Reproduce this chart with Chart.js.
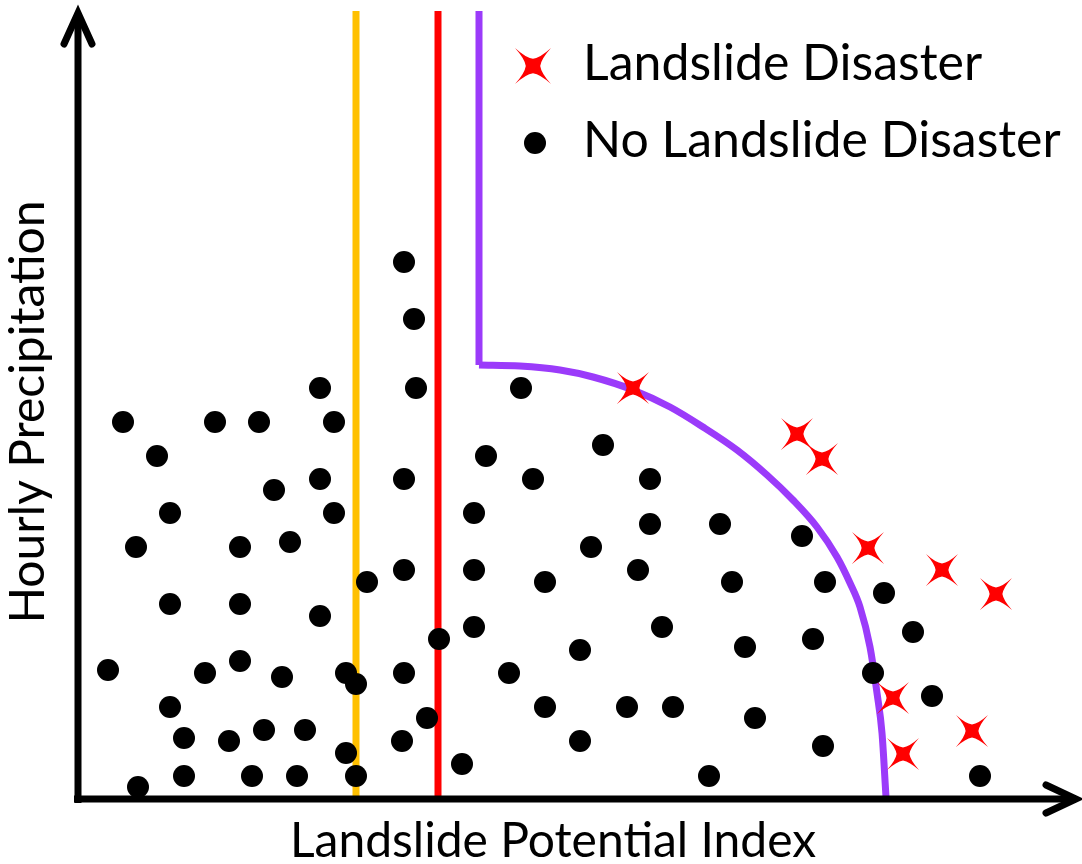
<!DOCTYPE html>
<html>
<head>
<meta charset="utf-8">
<script src="https://cdn.jsdelivr.net/npm/chart.js@4.4.1/dist/chart.umd.min.js"></script>
<style>
  html, body { margin: 0; padding: 0; background: #fff; }
  #wrap { width: 1082px; height: 864px; position: relative; }
</style>
</head>
<body>
<div id="wrap"><canvas id="landslideChart"></canvas></div>
<script>
// index units: x 0..1000 (potential index), y 0..788 (hourly precipitation)
const noDisasterX = [45, 79, 137, 181, 242, 256, 326, 336, 338, 92, 58, 196, 242, 256, 162, 212, 326,
  92, 162, 242, 289, 326, 30, 127, 162, 204, 268, 278, 326, 361, 92, 106, 151, 186, 227, 268, 324, 349,
  60, 106, 174, 219, 278, 384, 443, 408, 455, 525, 572, 396, 396, 467, 513, 560, 572, 642, 654, 724,
  747, 806, 396, 431, 502, 584, 667, 735, 835, 795, 854, 467, 549, 595, 677, 502, 631, 745, 902];
const noDisasterY = [377, 343, 377, 377, 411, 377, 537, 480, 411, 286, 252, 309, 320, 286, 252, 257, 320,
  195, 195, 183, 217, 229, 129, 126, 138, 122, 126, 115, 126, 160, 92, 61, 58, 69, 69, 46, 58, 81,
  12, 23, 23, 23, 23, 35, 411, 343, 320, 354, 320, 286, 229, 217, 252, 229, 275, 275, 217, 263,
  217, 206, 172, 126, 149, 172, 152, 160, 167, 126, 103, 92, 92, 92, 81, 58, 23, 53, 23];

const disasterX = [555, 719, 744, 790, 864, 918, 815, 894, 825];
const disasterY = [411, 365, 340, 251, 229, 205, 101, 68, 45];

const yellowLineX = 278;
const redLineX = 360;
const lineTop = 788;

// purple threshold: vertical stem, then the curved boundary
const stemX = [401, 401];
const stemY = [788, 434];
const boundaryX = [401, 442, 482, 515, 555, 592, 625, 659, 689, 715, 739, 759, 772, 782, 792, 799, 804, 808];
const boundaryY = [434, 433, 429, 422, 409, 392, 372, 349, 324, 299, 272, 242, 216, 192, 152, 106, 66, 2];

const legendLabels = ['Landslide Disaster', 'No Landslide Disaster'];
const xTitle = 'Landslide Potential Index';
const yTitle = 'Hourly Precipitation';

const pts = (xs, ys) => xs.map((v, i) => ({ x: v, y: ys[i] }));

// red four-point star marker, points on the diagonals
function makeStar(size, color) {
  const c = document.createElement('canvas');
  c.width = size; c.height = size;
  const g = c.getContext('2d');
  const h = size / 2;
  const w = size * 0.2; // waist
  const k = size * 0.2;
  g.translate(h, h);
  g.fillStyle = color;
  g.beginPath();
  g.moveTo(-h, -h);
  g.quadraticCurveTo(-k, -w - 1, 0, -w);
  g.quadraticCurveTo(k, -w - 1, h, -h);
  g.quadraticCurveTo(w + 1, -k, w, 0);
  g.quadraticCurveTo(w + 1, k, h, h);
  g.quadraticCurveTo(k, w + 1, 0, w);
  g.quadraticCurveTo(-k, w + 1, -h, h);
  g.quadraticCurveTo(-w - 1, k, -w, 0);
  g.quadraticCurveTo(-w - 1, -k, -h, -h);
  g.closePath();
  g.fill();
  return c;
}
const star = makeStar(32, '#ff0000');
const legendStar = makeStar(36, '#ff0000');

const FONT = 'Lato, "Noto Sans", sans-serif';

const decorations = {
  id: 'decorations',
  afterDraw(chart) {
    const { ctx, chartArea, scales: { x, y } } = chart;
    const ox = x.getPixelForValue(0);
    const oy = y.getPixelForValue(0);
    ctx.save();
    ctx.strokeStyle = '#000';
    ctx.lineWidth = 7;
    // axes
    ctx.lineCap = 'butt';
    ctx.beginPath();
    ctx.moveTo(ox, oy + 4);
    ctx.lineTo(ox, chartArea.top + 3);
    ctx.moveTo(ox - 4, oy);
    ctx.lineTo(chartArea.right - 4, oy);
    ctx.stroke();
    // arrow heads
    ctx.lineCap = 'round';
    ctx.lineJoin = 'miter';
    const tipY = chartArea.top + 2;
    ctx.beginPath();
    ctx.moveTo(ox - 14, tipY + 31);
    ctx.lineTo(ox, tipY);
    ctx.lineTo(ox + 14, tipY + 31);
    const tipX = chartArea.right - 2;
    ctx.moveTo(tipX - 30, oy - 14);
    ctx.lineTo(tipX, oy);
    ctx.lineTo(tipX - 30, oy + 14);
    ctx.stroke();

    // titles
    ctx.fillStyle = '#000';
    ctx.font = '48px ' + FONT;
    ctx.textAlign = 'center';
    ctx.textBaseline = 'middle';
    ctx.fillText(xTitle, 553, 842);
    ctx.save();
    ctx.translate(29, 412);
    ctx.rotate(-Math.PI / 2);
    ctx.fillText(yTitle, 0, 0);
    ctx.restore();

    // legend
    ctx.font = '50px ' + FONT;
    ctx.textAlign = 'left';
    ctx.drawImage(legendStar, 533 - 18, 66 - 18);
    ctx.fillText(legendLabels[0], 583, 64);
    ctx.beginPath();
    ctx.arc(535, 143, 11, 0, Math.PI * 2);
    ctx.fill();
    ctx.fillText(legendLabels[1], 583, 141);
    ctx.restore();
  }
};

new Chart(document.getElementById('landslideChart'), {
  type: 'scatter',
  data: {
    datasets: [
      {
        label: legendLabels[0],
        data: pts(disasterX, disasterY),
        pointStyle: star,
        order: 0
      },
      {
        label: legendLabels[1],
        data: pts(noDisasterX, noDisasterY),
        pointStyle: 'circle',
        pointRadius: 11,
        backgroundColor: '#000',
        borderWidth: 0,
        order: 1
      },
      {
        type: 'line',
        data: [{ x: yellowLineX, y: 0 }, { x: yellowLineX, y: lineTop }],
        borderColor: '#ffc000',
        borderWidth: 7,
        pointRadius: 0,
        order: 2
      },
      {
        type: 'line',
        data: [{ x: redLineX, y: 0 }, { x: redLineX, y: lineTop }],
        borderColor: '#ff0000',
        borderWidth: 7,
        pointRadius: 0,
        order: 2
      },
      {
        type: 'line',
        data: pts(stemX, stemY),
        borderColor: '#9b3bfa',
        borderWidth: 7,
        pointRadius: 0,
        order: 2
      },
      {
        type: 'line',
        data: pts(boundaryX, boundaryY),
        borderColor: '#9b3bfa',
        borderWidth: 7,
        pointRadius: 0,
        cubicInterpolationMode: 'monotone',
        order: 2
      }
    ]
  },
  options: {
    responsive: true,
    maintainAspectRatio: false,
    animation: false,
    layout: { autoPadding: false, padding: { left: 78, right: 4, top: 11, bottom: 65 } },
    plugins: {
      legend: { display: false },
      tooltip: { enabled: false }
    },
    scales: {
      x: { type: 'linear', min: 0, max: 1000, display: false },
      y: { type: 'linear', min: 0, max: 788, display: false }
    }
  },
  plugins: [decorations]
});
</script>
</body>
</html>
